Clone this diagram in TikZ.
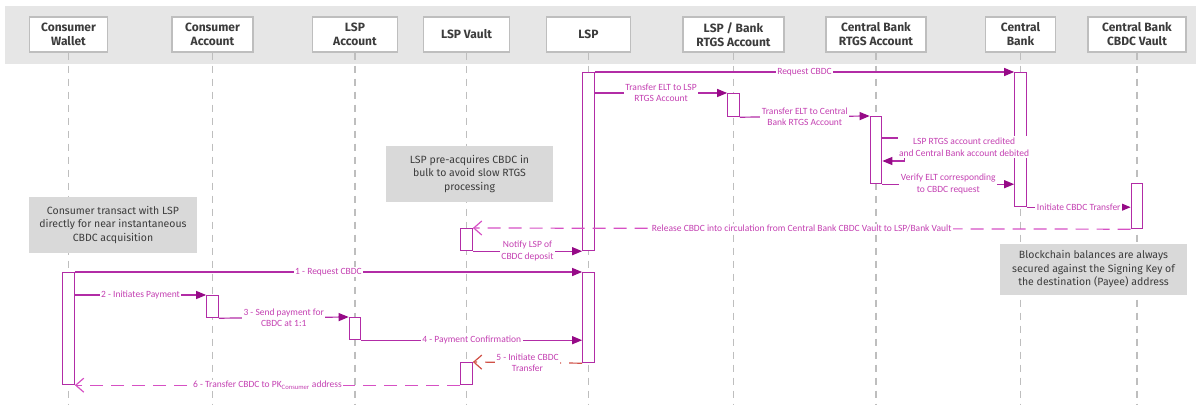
\documentclass[tikz,border=0pt]{standalone}
\usepackage{fontspec}
\setmainfont{Carlito}
\newfontfamily\headfont{Fira Sans}
\usetikzlibrary{arrows.meta, positioning, calc}

\definecolor{msgline}{RGB}{178,44,166}
\definecolor{msghead}{RGB}{150,10,135}
\definecolor{msgtext}{RGB}{196,64,178}
\definecolor{retline}{RGB}{214,80,196}
\definecolor{errline}{RGB}{208,80,70}
\definecolor{bandgray}{RGB}{230,230,230}
\definecolor{boxedge}{RGB}{190,190,190}
\definecolor{notegray}{RGB}{217,217,217}
\definecolor{lifegray}{RGB}{190,190,190}
\definecolor{headtext}{RGB}{60,60,60}

\begin{document}
\begin{tikzpicture}[
		x=1pt, y=-1pt,
		% --- ESTILOS ---
		actor/.style = {draw=boxedge, fill=white, line width=1.3pt, rectangle, minimum height=35pt, align=center, inner sep=1pt, text=headtext, font=\headfont\bfseries\fontsize{12}{14}\selectfont},
		act/.style = {draw=msgline, fill=white, line width=1.2pt, rectangle, minimum width=11.5pt, inner sep=0pt, anchor=north},
		life/.style = {draw=lifegray, line width=1.2pt, dash pattern=on 7pt off 6pt},
		msg/.style = {draw=msgline, line width=1.2pt, -{Triangle[length=10pt, width=8pt, color=msghead]}},
		ret/.style = {draw=retline, line width=1.2pt, dash pattern=on 13pt off 8pt, -{Straight Barb[length=8pt, width=14pt, color=retline]}},
		err/.style = {draw=errline, line width=1.2pt, dash pattern=on 13pt off 8pt, -{Straight Barb[length=8pt, width=14pt, color=errline]}},
		lbl/.style = {fill=white, inner sep=1.5pt, text=msgtext, align=center, font=\fontsize{9.5}{11.5}\selectfont},
		note/.style = {fill=notegray, text=headtext, align=center, inner sep=2pt, font=\headfont\fontsize{10.5}{13.5}\selectfont}
		]
		
		\useasboundingbox (0,0) rectangle (1196,406);
		
		% --- CABECERA ---
		\fill[bandgray] (5,6) rectangle (1196,64);
		\node[actor, minimum width=78pt]  (cw)  at (68.5,34.5)  {Consumer\\Wallet};
		\node[actor, minimum width=81pt]  (ca)  at (212.5,34.5) {Consumer\\Account};
		\node[actor, minimum width=85pt]  (la)  at (355,34.5)   {LSP\\Account};
		\node[actor, minimum width=86pt]  (lv)  at (466.5,34.5) {LSP Vault};
		\node[actor, minimum width=84pt]  (lsp) at (588.5,34.5) {LSP};
		\node[actor, minimum width=101pt] (lbr) at (733.5,34.5) {LSP / Bank\\RTGS Account};
		\node[actor, minimum width=100pt] (cbr) at (876,34.5)   {Central Bank\\RTGS Account};
		\node[actor, minimum width=70pt]  (cb)  at (1020.5,34.5){Central\\Bank};
		\node[actor, minimum width=98pt]  (cv)  at (1137,34.5)  {Central Bank\\CBDC Vault};
		
		% --- LINEAS DE VIDA ---
		\coordinate (floor) at (0,404);
		\foreach \n in {cw,ca,la,lv,lsp,lbr,cbr,cb,cv}
		\draw[life] (\n.south) -- (\n.south |- floor);
		
		% --- NOTAS ---
		\node[note, minimum width=167pt, minimum height=56pt] (bulk) at (469.5,174) {LSP pre-acquires CBDC in\\bulk to avoid slow RTGS\\processing};
		\node[note, minimum width=168pt, minimum height=56pt] (direct) at (113,225) {Consumer transact with LSP\\directly for near instantaneous\\CBDC acquisition};
		\node[note, minimum width=187pt, minimum height=51pt] (secure) at (1093.5,269.5) {Blockchain balances are always\\secured against the Signing Key of\\the destination (Payee) address};
		
		% --- ACTIVACIONES ---
		\node[act, minimum height=178pt] (lspA) at (588.5,72) {};
		\node[act, minimum height=23pt]  (lbrA) at (733.5,93) {};
		\node[act, minimum height=67pt]  (cbrA) at (876,116) {};
		\node[act, minimum height=134pt] (cbA)  at (1020.5,72) {};
		\node[act, minimum height=45pt]  (cvA)  at (1137,183) {};
		\node[act, minimum height=22pt]  (lvA)  at (466.5,228) {};
		\node[act, minimum height=112pt] (cwA)  at (68.5,272) {};
		\node[act, minimum height=90pt]  (lspB) at (588.5,272) {};
		\node[act, minimum height=22pt]  (caA)  at (212.5,295) {};
		\node[act, minimum height=22pt]  (laA)  at (355,317) {};
		\node[act, minimum height=22pt]  (lvB)  at (466.5,362) {};
		
		% --- ADQUISICION DEL LSP ---
		\draw[msg] (lspA.north east) -- node[lbl] (m1) {Request CBDC} (cbA.north west);
		\draw[msg] (lspA.east |- lbrA.north) -- node[lbl] (m2) {Transfer ELT to LSP\\RTGS Account} (lbrA.north west);
		\draw[msg] (lbrA.south east) -- node[lbl] (m3) {Transfer ELT to Central\\Bank RTGS Account} (cbrA.north west);
		\draw[msg] ($(cbrA.north east)+(0,22)$) -- ++(22,0) -- ++(0,23) -- ++(-22,0);
		\node[lbl, anchor=west] (m4) at ($(cbrA.north east)+(15,31)$) {LSP RTGS account credited\\and Central Bank account debited};
		\draw[msg] (cbrA.south east) -- node[lbl] (m5) {Verify ELT corresponding\\to CBDC request} (cbA.west |- cbrA.south);
		\draw[msg] (cbA.south east) -- node[lbl] (m6) {Initiate CBDC Transfer} (cvA.west |- cbA.south);
		\draw[ret] (cvA.south west) -- node[lbl] (m7) {Release CBDC into circulation from Central Bank CBDC Vault to LSP/Bank Vault} (lvA.north east);
		\draw[msg] (lvA.south east) -- node[lbl] (m8) {Notify LSP of\\CBDC deposit} (lspA.south west);
		
		% --- TRANSACCION DEL CONSUMIDOR ---
		\draw[msg] (cwA.north east) -- node[lbl] (c1) {1 - Request CBDC} (lspB.north west);
		\draw[msg] (cwA.east |- caA.north) -- node[lbl] (c2) {2 - Initiates Payment} (caA.north west);
		\draw[msg] (caA.south east) -- node[lbl] (c3) {3 - Send payment for\\CBDC at 1:1} (laA.north west);
		\draw[msg] (laA.south east) -- node[lbl] (c4) {4 - Payment Confirmation} (lspB.west |- laA.south);
		\draw[err] (lspB.south west) -- node[lbl] (c5) {5 - Initiate CBDC\\Transfer} (lvB.north east);
		\draw[ret] (lvB.south west) -- node[lbl] (c6) {6 - Transfer CBDC to PK\textsubscript{Consumer} address} (cwA.east |- lvB.south);
		
	\end{tikzpicture}
\end{document}
